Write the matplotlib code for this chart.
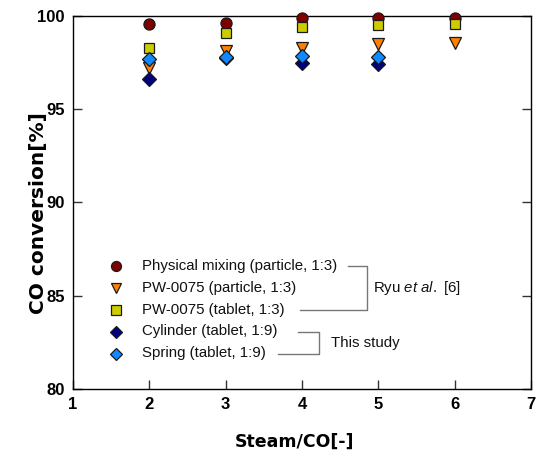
import matplotlib
matplotlib.use("Agg")
import matplotlib.pyplot as plt

plt.rcParams["mathtext.fontset"] = "custom"
plt.rcParams["mathtext.rm"] = "Liberation Sans"
plt.rcParams["mathtext.it"] = "Liberation Sans:italic"

# ---- data ----
steam_co = [2, 3, 4, 5, 6]
physical_mixing = [99.57, 99.64, 99.87, 99.87, 99.91]
pw_particle = [97.2, 98.1, 98.3, 98.48, 98.53]
pw_tablet = [98.3, 99.1, 99.43, 99.52, 99.55]
steam_co_study = [2, 3, 4, 5]
cylinder = [96.64, 97.75, 97.46, 97.41]
spring = [97.7, 97.82, 97.86, 97.82]

labels = ["Physical mixing (particle, 1:3)", "PW-0075 (particle, 1:3)",
          "PW-0075 (tablet, 1:3)", "Cylinder (tablet, 1:9)", "Spring (tablet, 1:9)"]
x_ticks = [1, 2, 3, 4, 5, 6, 7]
y_ticks = [80, 85, 90, 95, 100]

colors = ["#800000", "#FF8000", "#CCCC00", "#000080", "#1088FF"]
markers = ["o", "v", "s", "D", "D"]
data_ms = [8.0, 8.2, 7.4, 6.8, 6.8]
leg_ms = [7.2, 7.6, 6.7, 6.5, 6.5]

fig = plt.figure(figsize=(5.36, 4.54), dpi=100)
ax = fig.add_axes([73/536, 65/454, 458/536, 373/454])

series = [(steam_co, physical_mixing), (steam_co, pw_particle), (steam_co, pw_tablet),
          (steam_co_study, cylinder), (steam_co_study, spring)]
order = [1, 3, 4, 2, 0]  # drawing order
for i in order:
    xs, ys = series[i]
    ax.plot(xs, ys, linestyle="none", marker=markers[i], markersize=data_ms[i],
            markerfacecolor=colors[i], markeredgecolor="#1a1a1a", markeredgewidth=0.9,
            clip_on=False, zorder=3 + i)

ax.set_xlim(1, 7)
ax.set_ylim(80, 100)
ax.set_xticks(x_ticks)
ax.set_yticks(y_ticks)
tick_font = dict(family=["Liberation Sans Narrow", "Liberation Sans", "DejaVu Sans"],
                 weight="bold", size=12)
ax.set_xticklabels([str(v) for v in x_ticks], fontdict=tick_font)
ax.set_yticklabels([str(v) for v in y_ticks], fontdict=tick_font)
ax.tick_params(axis="both", direction="in", length=6.5, width=1.0, color="#333333", pad=6)
ax.tick_params(axis="y", right=True, left=True)
for s in ax.spines.values():
    s.set_linewidth(1.0)

ax.set_xlabel("Steam/CO[-]", fontsize=12.5, fontweight="bold", family="DejaVu Sans")
ax.set_ylabel("CO conversion[%]", fontsize=14.5, fontweight="bold", family="DejaVu Sans")
ax.xaxis.set_label_coords(0.4847, -0.1413)
ax.xaxis.label.set_verticalalignment("center")
ax.yaxis.set_label_coords(-0.0764, 0.4705)
ax.yaxis.label.set_verticalalignment("center")

# ---- manual legend (axes pixel positions) ----
def ax_x(px):
    return (px - 73) / 458

def ax_y(py):
    return (389 - py) / 373

txt_font = ["Liberation Sans", "DejaVu Sans"]
rows_py = [266, 288, 310, 331.5, 353.5]
for i, py in enumerate(rows_py):
    ax.plot([ax_x(116)], [ax_y(py)], transform=ax.transAxes, linestyle="none",
            marker=markers[i], markersize=leg_ms[i], markerfacecolor=colors[i],
            markeredgecolor="#1a1a1a", markeredgewidth=0.9, clip_on=False, zorder=10)
    ax.text(ax_x(141.5), ax_y(py), labels[i], transform=ax.transAxes, va="center", ha="left",
            fontsize=10.8, family=txt_font, color="#111111")

bracket_c = "#777777"
# Ryu et al. bracket
ax.plot([ax_x(348), ax_x(367), ax_x(367), ax_x(300)],
        [ax_y(266), ax_y(266), ax_y(310), ax_y(310)], transform=ax.transAxes,
        color=bracket_c, lw=1.0, clip_on=False)
ax.text(ax_x(373), ax_y(288), r"Ryu $\mathit{et\ al.}$ [6]", transform=ax.transAxes,
        va="center", ha="left", fontsize=10.8, family=txt_font, color="#111111")
# This study bracket
ax.plot([ax_x(298), ax_x(319), ax_x(319), ax_x(278)],
        [ax_y(331.5), ax_y(331.5), ax_y(353.5), ax_y(353.5)], transform=ax.transAxes,
        color=bracket_c, lw=1.0, clip_on=False)
ax.text(ax_x(331), ax_y(343), "This study", transform=ax.transAxes,
        va="center", ha="left", fontsize=10.8, family=txt_font, color="#111111")

fig.savefig("out.png", dpi=100)
